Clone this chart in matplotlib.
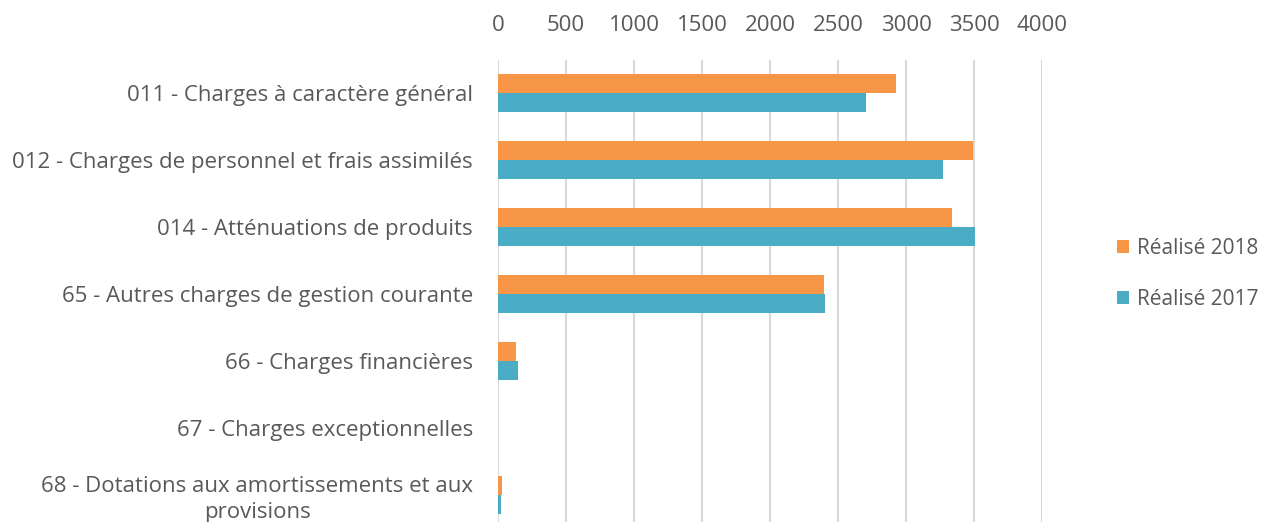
import matplotlib.pyplot as plt
import numpy as np

plt.rcParams['font.family'] = ['Open Sans', 'DejaVu Sans']

categories = [
    "011 - Charges à caractère général",
    "012 - Charges de personnel et frais assimilés",
    "014 - Atténuations de produits",
    "65 - Autres charges de gestion courante",
    "66 - Charges financières",
    "67 - Charges exceptionnelles",
    "68 - Dotations aux amortissements et aux\nprovisions",
]
realise_2018 = [2924, 3496, 3338, 2400, 132, 2, 32]
realise_2017 = [2706, 3270, 3505, 2402, 144, 1, 20]
xticks = [0, 500, 1000, 1500, 2000, 2500, 3000, 3500, 4000]

orange = "#F79646"
blue = "#4BACC6"
grey = "#595959"

fig = plt.figure(figsize=(12.63, 5.22), dpi=100)
# axes from y=60 px down to ~528 px (slightly past the bottom edge)
ax = fig.add_axes([498 / 1263, -6 / 522, (1042 - 498) / 1263, (528 - 60) / 522])

y = np.arange(len(categories))
h = 0.285
ax.barh(y - h / 2, realise_2018, height=h, color=orange, label="Réalisé 2018", zorder=3)
ax.barh(y + h / 2, realise_2017, height=h, color=blue, label="Réalisé 2017", zorder=3)

ax.set_xlim(0, 4000)
ax.set_ylim(len(categories) - 0.5, -0.5)
ax.set_xticks(xticks)
ax.set_xticklabels([str(t) for t in xticks])
ax.xaxis.tick_top()
ax.set_yticks(y)
ax.set_yticklabels(categories, multialignment='center', linespacing=1.3)
ax.tick_params(axis='both', length=0, colors=grey, labelsize=16)
ax.tick_params(axis='x', pad=17)
ax.tick_params(axis='y', pad=18)
ax.grid(axis='x', color="#D9D9D9", linewidth=1.5, zorder=0)
for s in ax.spines.values():
    s.set_visible(False)

fig.legend(loc='center left', bbox_to_anchor=(1098 / 1263, 1 - 274 / 522), frameon=False,
           fontsize=15, labelcolor=grey, handlelength=0.6, handleheight=0.6,
           handletextpad=0.35, labelspacing=1.45)

fig.savefig("out.png", dpi=100)
